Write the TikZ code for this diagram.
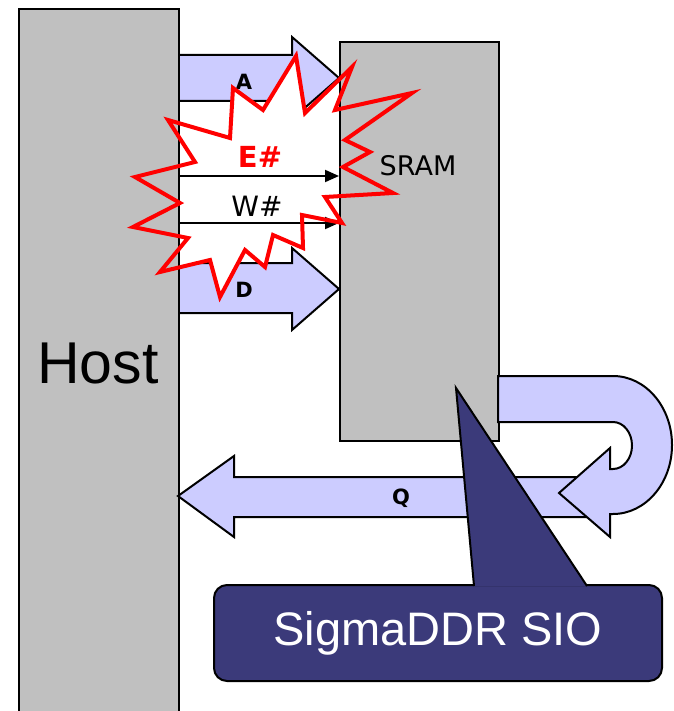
\documentclass[tikz,border=0pt]{standalone}
\usepackage{fontspec}
\newfontfamily\djv{DejaVu Sans}
\newfontfamily\lib{Liberation Sans}
\usetikzlibrary{arrows.meta}
\definecolor{lav}{HTML}{CCCCFF}
\definecolor{gbox}{HTML}{C0C0C0}
\definecolor{navy}{HTML}{3B3A7A}
\tikzset{
  graybox/.style={draw=black, fill=gbox, line width=2pt, anchor=north west, inner sep=0pt},
  blockarrow/.style={draw=black, fill=lav, line width=2pt, line join=miter},
  sigline/.style={draw=black, line width=2pt, -{Triangle[length=14pt,width=12pt]}},
  burstfill/.style={fill=white},
  burstline/.style={draw=red, line width=4pt, line join=miter},
  busl/.style={font=\djv\bfseries\fontsize{21}{21}\selectfont},
  callbox/.style={draw=black, fill=navy, line width=2pt, rounded corners=13pt, anchor=north west, inner sep=0pt,
     text=white, font=\lib\fontsize{47}{47}\selectfont},
}
\begin{document}
\begin{tikzpicture}[x=1pt, y=-1pt]
\useasboundingbox (0,0) rectangle (673,711);
\clip (0,0) rectangle (673,711);
% block arrows A and D
\draw[blockarrow] (178,55) -- (292,55) -- (292,37) -- (339,78) -- (292,119) -- (292,101) -- (178,101) -- cycle;
\draw[blockarrow] (178,263) -- (292,263) -- (292,248) -- (339,289) -- (292,330) -- (292,313) -- (178,313) -- cycle;
% burst fill
\path[burstfill] (296,56) -- (305,113) -- (352,67) -- (335,110) -- (412,93) -- (345,140) -- (370,152) -- (343,167) -- (393,193) -- (325,197) -- (342,223) -- (302,215) -- (303,248) -- (273,235) -- (265,267) -- (245,250) -- (220,297) -- (210,260) -- (160,272) -- (188,238) -- (133,227) -- (180,203) -- (135,177) -- (195,162) -- (168,120) -- (230,138) -- (233,88) -- (263,110) -- cycle;
% host and sram
\node[graybox, minimum width=160pt, minimum height=712pt] (host) at (18,8) {};
\node[graybox, minimum width=159pt, minimum height=399pt] (sram) at (339,41) {};
\node[font=\lib\fontsize{59}{59}\selectfont] (hostl) at (98,363) {Host};
\node[font=\djv\fontsize{27}{27}\selectfont] (sraml) at (418,166) {SRAM};
% signal lines
\coordinate (e0) at (host.east |- 0,176);
\coordinate (e1) at (sram.west |- 0,176);
\coordinate (w0) at (host.east |- 0,223);
\coordinate (w1) at (sram.west |- 0,223);
\draw[sigline] (e0) -- (e1);
\draw[sigline] (w0) -- (w1);
\node[busl] (al) at (244,82) {A};
\node[busl] (dl) at (244,290) {D};
\node[font=\djv\bfseries\fontsize{29}{29}\selectfont, text=red] (el) at (260,157) {E\#};
\node[font=\djv\fontsize{28}{28}\selectfont] (wl) at (257,206) {W\#};
% burst outline
\draw[burstline] (296,56) -- (305,113) -- (352,67) -- (335,110) -- (412,93) -- (345,140) -- (370,152) -- (343,167) -- (393,193) -- (325,197) -- (342,223) -- (302,215) -- (303,248) -- (273,235) -- (265,267) -- (245,250) -- (220,297) -- (210,260) -- (160,272) -- (188,238) -- (133,227) -- (180,203) -- (135,177) -- (195,162) -- (168,120) -- (230,138) -- (233,88) -- (263,110) -- cycle;
% Q arrow
\draw[blockarrow] (234,477) -- (600,477) -- (600,517) -- (234,517) -- (234,537) -- (178,496) -- (234,456) -- cycle;
\node[busl] (ql) at (401,498) {Q};
% U-turn arrow
\draw[blockarrow] (498,376) -- (613,376) arc[start angle=-90, end angle=90, x radius=59, y radius=69] -- (610,514) -- (610,537) -- (559,493) -- (610,448) -- (610,469) -- (613,469) arc[start angle=90, end angle=-90, x radius=19, y radius=23.5] -- (498,422) -- cycle;
% callout
\node[callbox, minimum width=448pt, minimum height=96pt] (sio) at (213,584) {SigmaDDR SIO};
\coordinate (tip) at (456,388);
\draw[fill=navy, line width=2pt, line join=miter] (474,586) -- (tip) -- (587,586);
\end{tikzpicture}
\end{document}
